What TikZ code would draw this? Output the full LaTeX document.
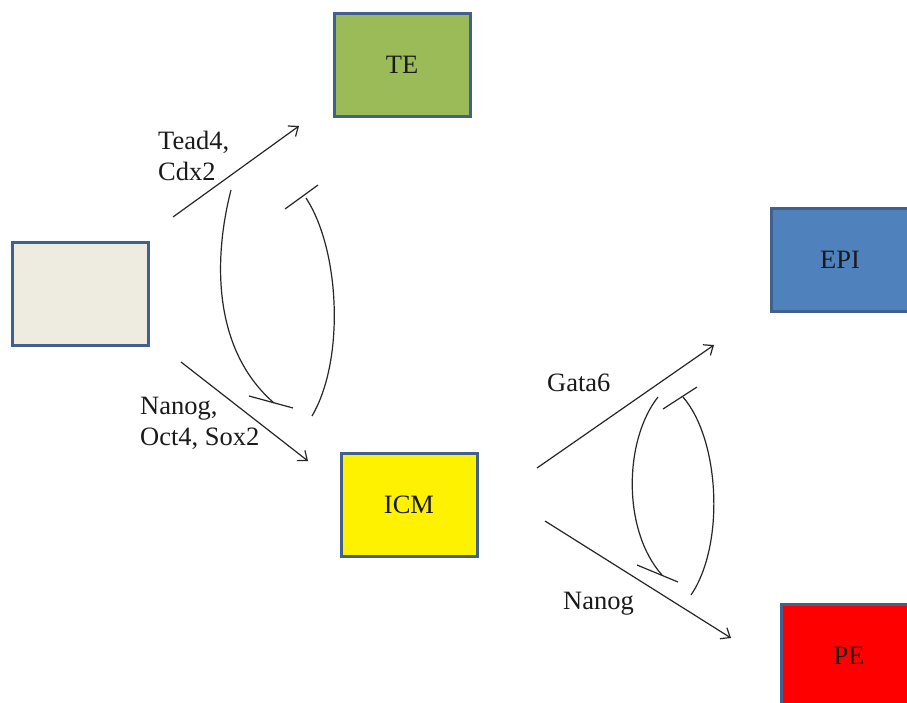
\documentclass[tikz,border=0pt]{standalone}
\usepackage{fontspec}
\setmainfont{Liberation Serif}
\usetikzlibrary{arrows.meta}
\definecolor{bordc}{HTML}{41618C}
\definecolor{beige}{HTML}{EEECE1}
\definecolor{teg}{HTML}{9BBB59}
\definecolor{epib}{HTML}{4F81BD}
\definecolor{txt}{HTML}{1A1A1A}
\tikzset{
  cellbox/.style={draw=bordc, line width=3pt, minimum width=136pt, minimum height=103pt, inner sep=0pt, text=txt, font=\fontsize{26.5}{31}\selectfont},
  lbl/.style={anchor=west, align=left, inner sep=0pt, text=txt, font=\fontsize{26.5}{31}\selectfont},
  act/.style={line width=1.2pt, draw=black!85, -{Straight Barb[length=8pt,width=13pt,line width=1.2pt]}},
  inh/.style={line width=1.2pt, draw=black!85},
}
\begin{document}
\begin{tikzpicture}[x=1pt,y=-1pt]
\useasboundingbox (0,0) rectangle (907,702);
\clip (0,0) rectangle (907,702);
\fill[white] (0,0) rectangle (907,702);
% boxes
\node[cellbox, fill=beige] (start) at (80,293.5) {};
\node[cellbox, fill=teg] (te) at (402,64.5) {TE};
\node[cellbox, fill=epib, minimum width=138pt] (epi) at (840,259.5) {EPI};
\node[cellbox, fill=yellow] (icm) at (409,504.5) {ICM};
\node[cellbox, fill=red] (pe) at (849,655.5) {PE};
% labels
\node[lbl] (l1) at (158,156) {Tead4,\\Cdx2};
\node[lbl] (l2) at (140,423) {Nanog,\\Oct4, Sox2};
\node[lbl] (l3) at (547,383) {Gata6};
\node[lbl] (l4) at (563,604) {Nanog};
% arrow endpoints
\coordinate (a1s) at (173,217); \coordinate (a1e) at (299,126);
\coordinate (a2s) at (181,362); \coordinate (a2e) at (308,461);
\coordinate (a3s) at (537,468); \coordinate (a3e) at (714,345);
\coordinate (a4s) at (545,521); \coordinate (a4e) at (731,638);
\draw[act] (a1s) -- (a1e);
\draw[act] (a2s) -- (a2e);
\draw[act] (a3s) -- (a3e);
\draw[act] (a4s) -- (a4e);
% inhibition arcs, pair 1
\coordinate (p1a) at (231,190); \coordinate (p1b) at (274,403);
\draw[inh] (p1a) .. controls (213,260) and (213,350) .. (p1b);
\coordinate (b1a) at (249,396); \coordinate (b1b) at (293,408);
\draw[inh] (b1a) -- (b1b);
\coordinate (p2a) at (312,416); \coordinate (p2b) at (306,198);
\draw[inh] (p2a) .. controls (345,360) and (340,250) .. (p2b);
\coordinate (b2a) at (285,209); \coordinate (b2b) at (318,185);
\draw[inh] (b2a) -- (b2b);
% inhibition arcs, pair 2
\coordinate (p3a) at (658,397); \coordinate (p3b) at (662,575);
\draw[inh] (p3a) .. controls (624,440) and (622,530) .. (p3b);
\coordinate (b3a) at (637,565); \coordinate (b3b) at (678,582);
\draw[inh] (b3a) -- (b3b);
\coordinate (p4a) at (691,595); \coordinate (p4b) at (683,397);
\draw[inh] (p4a) .. controls (725,545) and (720,440) .. (p4b);
\coordinate (b4a) at (663,409); \coordinate (b4b) at (697,387);
\draw[inh] (b4a) -- (b4b);
\end{tikzpicture}
\end{document}
